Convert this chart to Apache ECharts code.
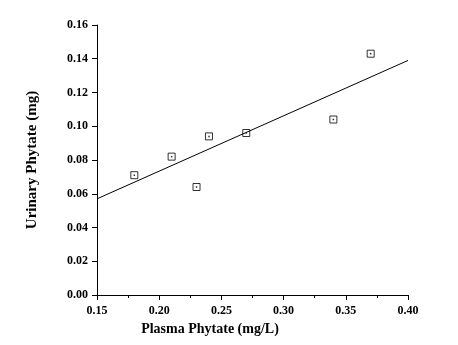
<!DOCTYPE html>
<html><head><meta charset="utf-8">
<script src="https://cdn.jsdelivr.net/npm/echarts@6/dist/echarts.min.js"></script>
<style>html,body{margin:0;padding:0;background:#fff}#c{width:458px;height:345px}</style>
</head><body><div id="c"></div>
<script>
const plasmaPhytate = [0.18, 0.21, 0.23, 0.24, 0.27, 0.34, 0.37];
const urinaryPhytate = [0.071, 0.082, 0.064, 0.094, 0.096, 0.104, 0.143];
const fitX = [0.15, 0.40];
const fitY = [0.057, 0.139];
const xTitle = 'Plasma Phytate (mg/L)';
const yTitle = 'Urinary Phytate (mg)';

const pts = plasmaPhytate.map((x, i) => [x, urinaryPhytate[i]]);
const fit = fitX.map((x, i) => [x, fitY[i]]);
const font = 'Liberation Serif';
const chart = echarts.init(document.getElementById('c'), null, {renderer: 'canvas'});
chart.setOption({
  animation: false,
  backgroundColor: '#fff',
  grid: {left: 97, right: 50, top: 25, bottom: 50, containLabel: false},
  xAxis: {
    type: 'value', min: 0.15, max: 0.40, interval: 0.05,
    name: xTitle, nameLocation: 'middle', nameGap: 27,
    nameTextStyle: {fontFamily: font, fontWeight: 'bold', fontSize: 14, color: '#000', padding: [0, 85, 0, 0]},
    axisLine: {lineStyle: {color: '#000', width: 1}},
    axisTick: {show: true, length: 5, lineStyle: {color: '#000'}},
    minorTick: {show: true, splitNumber: 2, length: 3, lineStyle: {color: '#000'}},
    splitLine: {show: false},
    axisLabel: {fontFamily: font, fontWeight: 'bold', fontSize: 12, color: '#000', margin: 10,
      formatter: v => v.toFixed(2)}
  },
  yAxis: {
    type: 'value', min: 0, max: 0.16, interval: 0.02,
    name: yTitle, nameLocation: 'middle', nameGap: 57, nameRotate: 90,
    nameTextStyle: {fontFamily: font, fontWeight: 'bold', fontSize: 15, color: '#000'},
    axisLine: {show: true, lineStyle: {color: '#000', width: 1}},
    axisTick: {show: true, length: 5, lineStyle: {color: '#000'}},
    splitLine: {show: false},
    axisLabel: {fontFamily: font, fontWeight: 'bold', fontSize: 12, color: '#000', margin: 9,
      formatter: v => v.toFixed(2)}
  },
  series: [
    {type: 'line', data: fit, symbol: 'none', lineStyle: {color: '#000', width: 1}, silent: true},
    {type: 'scatter', data: pts, symbol: 'rect', symbolSize: 7,
      itemStyle: {color: '#fff', borderColor: '#000', borderWidth: 1}},
    {type: 'scatter', data: pts, symbol: 'rect', symbolSize: 1.5,
      itemStyle: {color: '#000'}}
  ]
});
</script></body></html>
